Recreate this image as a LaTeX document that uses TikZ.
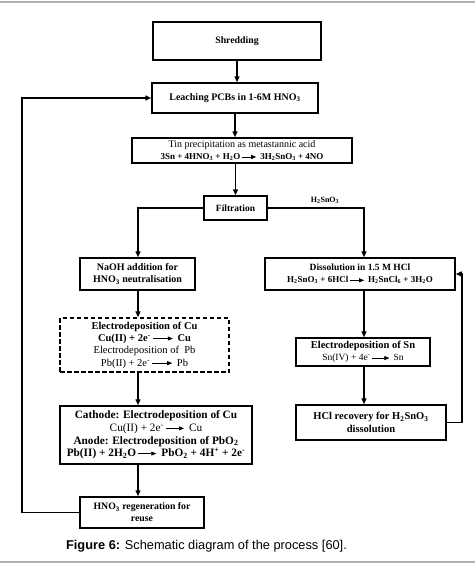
\documentclass[tikz,border=0pt]{standalone}
\usepackage{fontspec}
\setmainfont{Liberation Serif}
\newfontfamily\capfont{Liberation Sans}
\usetikzlibrary{arrows.meta}
\newcommand\rx[1][15pt]{\,\tikz[baseline=-0.6ex]\draw[line width=0.7pt,-{Triangle[length=5pt,width=4pt]}] (0pt,0pt)--(#1,0pt);\,}
\newcommand\sub[1]{\textsubscript{#1}}
\newcommand\sups[1]{\textsuperscript{#1}}
\newcommand\fsz[1]{\fontsize{#1}{12.5}\selectfont}
\begin{document}
\begin{tikzpicture}[x=1pt,y=-1pt,
  box/.style={draw,line width=1.5pt,inner sep=0pt,align=center,font=\fontsize{9.5}{12}\selectfont},
  dbox/.style={box,dash pattern=on 4.5pt off 2.5pt,line width=1.3pt},
  arr/.style={line width=1.4pt,-{Triangle[length=6pt,width=5pt]}},
  ln/.style={line width=1.4pt}]
\useasboundingbox (0,0) rectangle (475,568);
\draw[line width=2pt,black!30] (0,2) -- (475,2);
\draw[line width=2pt,black!30] (0,562) -- (475,562);
\node[box,minimum width=168pt,minimum height=38pt,font=\fontsize{9.8}{12}\selectfont] (shred) at (237,41) {\textbf{Shredding}};
\node[box,minimum width=166pt,minimum height=30pt,font=\fontsize{10}{12}\selectfont] (leach) at (235,98) {\textbf{Leaching PCBs in 1-6M HNO\sub{3}}};
\node[box,minimum width=220pt,minimum height=25pt] (tin) at (242,150.5) {\fsz{10}Tin precipitation as metastannic acid\\ \fsz{9}\textbf{3Sn + 4HNO\sub{3} + H\sub{2}O\rx[14pt] 3H\sub{2}SnO\sub{3} + 4NO}};
\node[box,minimum width=63pt,minimum height=24pt] (filt) at (235.5,208) {\textbf{Filtration}};
\node[font=\fontsize{8}{9}\selectfont\bfseries] (lab) at (325,200) {H\sub{2}SnO\sub{3}};
\node[box,minimum width=115pt,minimum height=32pt] (naoh) at (137.5,274) {\fsz{10}\textbf{NaOH addition for}\\ \fsz{10}\textbf{HNO\sub{3} neutralisation}};
\node[box,minimum width=190pt,minimum height=32pt] (diss) at (360,274) {\textbf{Dissolution in 1.5 M HCl}\\ \fsz{9}\textbf{H\sub{2}SnO\sub{3} + 6HCl\rx[14pt] H\sub{2}SnCl\sub{6} + 3H\sub{2}O}};
\node[dbox,minimum width=169pt,minimum height=54pt,font=\fontsize{10.5}{12.3}\selectfont] (dep) at (144.5,345) {\textbf{Electrodeposition of Cu}\\ \textbf{Cu(II) + 2e\sups{-}\rx[20pt] Cu}\\ Electrodeposition of~ Pb\\ Pb(II) + 2e\sups{-}\rx[20pt] Pb};
\node[box,minimum width=134pt,minimum height=28pt] (sn) at (363,352) {\fsz{10.5}\textbf{Electrodeposition of Sn}\\ \fsz{9.5}Sn(IV) + 4e\sups{-}\rx[17pt] Sn};
\node[box,minimum width=192pt,minimum height=58pt,font=\fontsize{11.3}{12.6}\selectfont] (cat) at (156,435) {\textbf{Cathode: Electrodeposition of Cu}\\ Cu(II) + 2e\sups{-}\rx[18pt] Cu\\ \textbf{Anode: Electrodeposition of PbO\sub{2}}\\ \textbf{Pb(II) + 2H\sub{2}O\rx[18pt] PbO\sub{2} + 4H\sups{+} + 2e\sups{-}}};
\node[box,minimum width=150pt,minimum height=35pt,font=\fontsize{10.5}{12.5}\selectfont] (hcl) at (371,422.5) {\textbf{HCl recovery for H\sub{2}SnO\sub{3}}\\ \textbf{dissolution}};
\node[box,minimum width=124pt,minimum height=31pt,font=\fontsize{9.8}{12}\selectfont] (regen) at (142,512.5) {\textbf{HNO\sub{3} regeneration for}\\ \textbf{reuse}};
\node[font=\capfont\fontsize{12.8}{14}\selectfont] (cap) at (206.5,546) {\textbf{Figure 6:} Schematic diagram of the process [60].};
\coordinate (lx) at (138,0);
\coordinate (rx) at (364,0);
\coordinate (fbl) at (22,0);
\coordinate (fbr) at (462,0);
\draw[arr] (shred.south) -- (shred.south |- leach.north);
\draw[arr] (leach.south) -- (leach.south |- tin.north);
\draw[arr] (tin.south -| filt.north) -- (filt.north);
\draw[arr] (filt.west) -| (naoh.north -| lx);
\draw[arr] (filt.east) -| (diss.north -| rx);
\draw[arr] (naoh.south -| lx) -- (dep.north -| lx);
\draw[arr] (dep.south -| lx) -- (cat.north -| lx);
\draw[arr] (cat.south -| lx) -- (regen.north -| lx);
\draw[arr] (diss.south -| rx) -- (sn.north -| rx);
\draw[arr] (sn.south -| rx) -- (hcl.north -| rx);
\draw[arr] (hcl.east) -- (hcl.east -| fbr) -- (diss.east -| fbr) -- (diss.east);
\draw[arr] (regen.west) -- (regen.west -| fbl) -- (leach.west -| fbl) -- (leach.west);
\end{tikzpicture}
\end{document}
